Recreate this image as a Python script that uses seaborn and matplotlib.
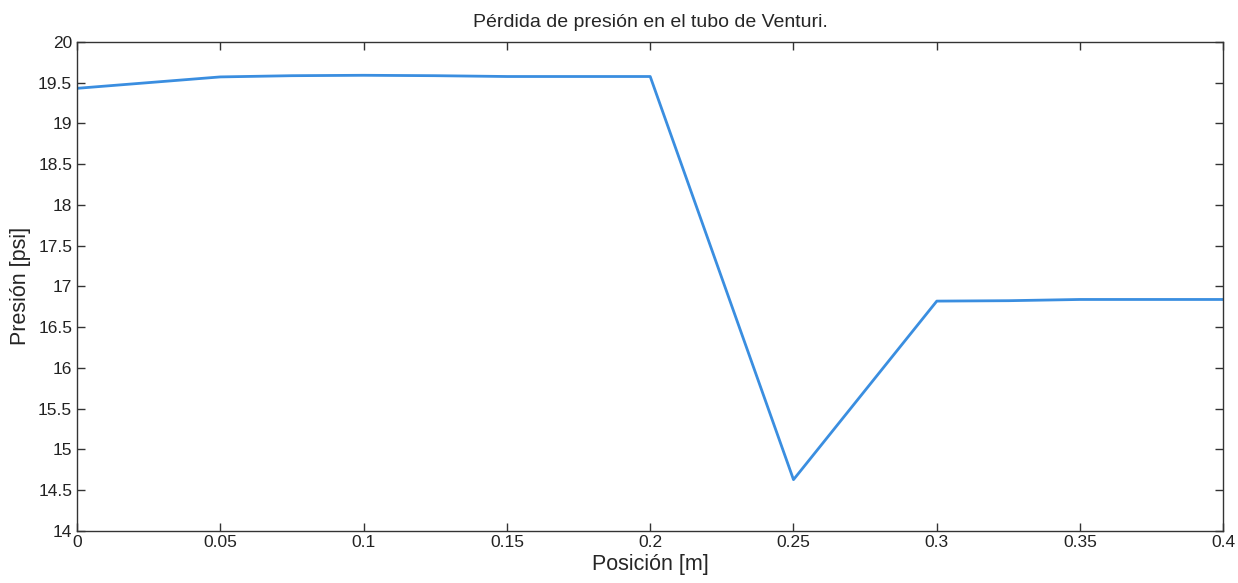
import matplotlib
matplotlib.use("Agg")
import matplotlib.pyplot as plt
import seaborn as sns
import pandas as pd

posicion = [0.0, 0.025, 0.05, 0.075, 0.1, 0.125, 0.15, 0.175, 0.2, 0.25, 0.3, 0.325, 0.35, 0.375, 0.4]
presion = [19.43, 19.50, 19.57, 19.585, 19.59, 19.585, 19.575, 19.575, 19.575, 14.63, 16.82, 16.825, 16.84, 16.84, 16.84]
xticks = [0, 0.05, 0.1, 0.15, 0.2, 0.25, 0.3, 0.35, 0.4]
xticklabels = ["0", "0.05", "0.1", "0.15", "0.2", "0.25", "0.3", "0.35", "0.4"]
yticks = [14, 14.5, 15, 15.5, 16, 16.5, 17, 17.5, 18, 18.5, 19, 19.5, 20]
yticklabels = ["14", "14.5", "15", "15.5", "16", "16.5", "17", "17.5", "18", "18.5", "19", "19.5", "20"]

sns.set_style("ticks")
plt.rcParams['font.family'] = ['Liberation Sans', 'DejaVu Sans']

df = pd.DataFrame({"x": posicion, "y": presion})
fig = plt.figure(figsize=(12.38, 5.83), dpi=100)
ax = fig.add_axes([0.0622, 0.0892, 0.926, 0.839])
sns.lineplot(data=df, x="x", y="y", ax=ax, color="#3a8ee0", linewidth=2, sort=False)
ax.set_xlim(0, 0.4)
ax.set_ylim(14, 20)
ax.set_xticks(xticks)
ax.set_xticklabels(xticklabels)
ax.set_yticks(yticks)
ax.set_yticklabels(yticklabels)
ax.tick_params(direction="in", length=6, width=1, labelsize=12.5, top=True, right=True,
               color="#333333", labelcolor="#222222")
ax.tick_params(axis="x", pad=3)
for s in ax.spines.values():
    s.set_visible(True)
    s.set_color("#333333")
    s.set_linewidth(1)
ax.set_xlabel("Posición [m]", fontsize=15.5, labelpad=3)
ax.set_ylabel("Presión [psi]", fontsize=15.5, labelpad=5)
ax.set_title("Pérdida de presión en el tubo de Venturi.", fontsize=14, pad=11)
fig.savefig("out.png", dpi=100)
